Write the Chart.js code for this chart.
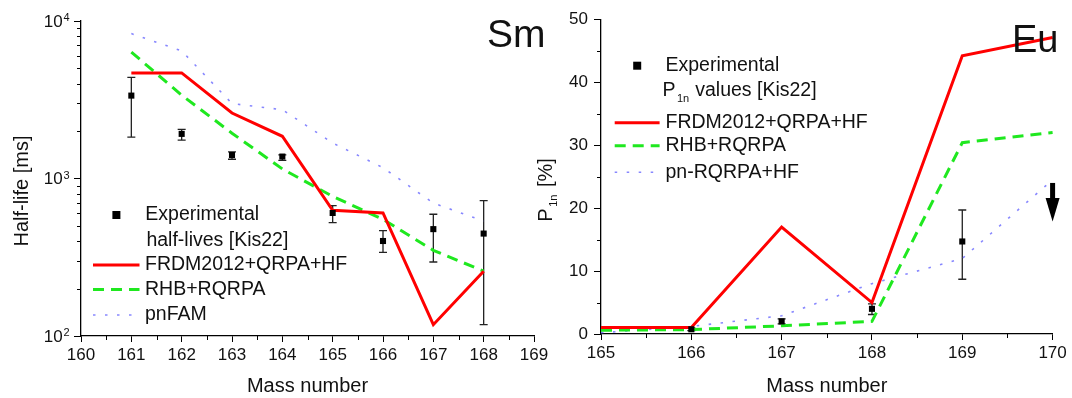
<!DOCTYPE html>
<html>
<head>
<meta charset="utf-8">
<script src="https://cdn.jsdelivr.net/npm/chart.js@4.4.1/dist/chart.umd.min.js"></script>
<style>
html, body { margin: 0; padding: 0; background: #fff; }
#wrap { position: relative; width: 1072px; height: 398px; overflow: hidden; }
.box { position: absolute; top: 0; height: 398px; }
#left { left: 0; width: 560px; }
#right { left: 530px; width: 542px; }
</style>
</head>
<body>
<div id="wrap">
  <div class="box" id="left"><canvas id="smChart"></canvas></div>
  <div class="box" id="right"><canvas id="euChart"></canvas></div>
</div>
<script>
// Sm half-lives (ms)
const smMass = [161, 162, 163, 164, 165, 166, 167, 168];
const smExp = [3360, 1920, 1410, 1378, 604, 401, 477, 447];
const smExpLow = [1830, 1750, 1325, 1303, 525, 340, 295, 118];
const smExpHigh = [4380, 2050, 1475, 1413, 673, 467, 593, 724];
const smFrdm = [4680, 4680, 2605, 1854, 628, 604, 118, 258];
const smRhb = [6350, 3380, 1940, 1150, 770, 550, 350, 258];
const smPnfam = [8320, 6460, 2990, 2735, 1680, 1172, 698, 537];
const smDecades = [100, 1000, 10000];

// Eu P1n values (%)
const euMass = [165, 166, 167, 168, 169, 170];
const euFrdm = [1.05, 1.05, 17.0, 5.0, 44.2, 47.1];
const euRhb = [0.6, 0.7, 1.3, 2.0, 30.4, 32.0];
const euPnrqrpa = [0.2, 1.2, 2.9, 8.0, 12.0, 24.5];
const euExpMass = [166, 167, 168, 169];
const euExp = [0.75, 2.0, 4.0, 14.7];
const euExpLow = [0.55, 1.6, 3.1, 8.7];
const euExpHigh = [0.95, 2.4, 4.8, 19.7];
const euLimitMass = [170];
const euLimit = [24.0];

const FONT = '"Liberation Sans", Arial, sans-serif';
const RED = '#ff0000';
const GREEN = '#1fe81f';
const BLUE = 'rgba(105,105,255,0.8)';
const RHB_DASH = [11, 7];
const DOT_DASH = [2.5, 9.5];

Chart.defaults.font.family = FONT;
Chart.defaults.color = '#111';

function pts(xs, ys) {
  return xs.map((x, i) => ({ x: x, y: ys[i] }));
}

function txt(ctx, s, x, y, size, align, base) {
  ctx.font = size + 'px ' + FONT;
  ctx.textAlign = align || 'left';
  ctx.textBaseline = base || 'middle';
  ctx.fillStyle = '#111';
  ctx.fillText(s, x, y);
  return ctx.measureText(s).width;
}

function legendLine(ctx, x1, x2, y, color, width, dash) {
  ctx.save();
  ctx.strokeStyle = color;
  ctx.lineWidth = width;
  ctx.setLineDash(dash || []);
  ctx.beginPath();
  ctx.moveTo(x1, y);
  ctx.lineTo(x2, y);
  ctx.stroke();
  ctx.restore();
}

function legendSquare(ctx, x, y) {
  ctx.fillStyle = '#000';
  ctx.fillRect(x - 4, y - 4, 8, 8);
}

function errorBars(chart, xs, lo, hi) {
  const ctx = chart.ctx, sx = chart.scales.x, sy = chart.scales.y;
  ctx.save();
  ctx.strokeStyle = '#222';
  ctx.lineWidth = 1.3;
  xs.forEach((m, i) => {
    const x = sx.getPixelForValue(m);
    const y1 = sy.getPixelForValue(lo[i]);
    const y2 = sy.getPixelForValue(hi[i]);
    ctx.beginPath();
    ctx.moveTo(x, y1); ctx.lineTo(x, y2);
    ctx.moveTo(x - 4, y1); ctx.lineTo(x + 4, y1);
    ctx.moveTo(x - 4, y2); ctx.lineTo(x + 4, y2);
    ctx.stroke();
  });
  ctx.restore();
}

function minorTicks(chart, xVals, yVals) {
  const ctx = chart.ctx, sx = chart.scales.x, sy = chart.scales.y;
  ctx.save();
  ctx.strokeStyle = '#000';
  ctx.lineWidth = 1;
  ctx.beginPath();
  xVals.forEach(v => {
    const x = Math.round(sx.getPixelForValue(v)) + 0.5;
    ctx.moveTo(x, sx.top); ctx.lineTo(x, sx.top + 4);
  });
  yVals.forEach(v => {
    const y = Math.round(sy.getPixelForValue(v)) + 0.5;
    ctx.moveTo(sy.right - 4, y); ctx.lineTo(sy.right, y);
  });
  ctx.stroke();
  ctx.restore();
}

function xAxis(min, max, height, title) {
  return {
    type: 'linear', min: min, max: max,
    ticks: { stepSize: 1, padding: 3, color: '#111', font: { size: 17 } },
    grid: { display: true, drawOnChartArea: false, drawTicks: true, tickLength: 6, tickColor: '#000', tickWidth: 1 },
    border: { display: true, color: '#000', width: 1.3 },
    title: { display: true, text: title, color: '#111', font: { size: 20 }, padding: { top: 0, bottom: 0 } },
    afterFit(s) { s.height = height; s.paddingLeft = 0; s.paddingRight = 0; }
  };
}

// ---------- Sm panel ----------
const smDecor = {
  id: 'smDecor',
  beforeDatasetsDraw(chart) { errorBars(chart, smMass, smExpLow, smExpHigh); },
  afterDraw(chart) {
    const ctx = chart.ctx, sy = chart.scales.y;
    const xm = [], ym = [];
    for (let v = 160.5; v < 169; v += 1) xm.push(v);
    [100, 1000].forEach(d => { for (let k = 2; k <= 9; k++) ym.push(k * d); });
    minorTicks(chart, xm, ym);

    smDecades.forEach(v => {
      const y = sy.getPixelForValue(v);
      txt(ctx, '10', sy.right - 18.3, y + 1, 17, 'right', 'middle');
      txt(ctx, String(Math.round(Math.log10(v))), sy.right - 17.5, y, 11, 'left', 'alphabetic');
    });

    ctx.save();
    ctx.translate(22, 191);
    ctx.rotate(-Math.PI / 2);
    txt(ctx, 'Half-life [ms]', 0, 0, 20, 'center', 'middle');
    ctx.restore();

    legendSquare(ctx, 116.4, 215);
    txt(ctx, 'Experimental', 145.3, 215, 19.5);
    txt(ctx, 'half-lives [Kis22]', 146.4, 240.7, 19.5);
    legendLine(ctx, 93, 139.5, 265, RED, 3);
    txt(ctx, 'FRDM2012+QRPA+HF', 145, 265, 19.5);
    legendLine(ctx, 93, 139.5, 289.5, GREEN, 3, RHB_DASH);
    txt(ctx, 'RHB+RQRPA', 145, 289.5, 19.5);
    legendLine(ctx, 93, 139.5, 315, BLUE, 1.6, DOT_DASH);
    txt(ctx, 'pnFAM', 145, 315, 19.5);

    txt(ctx, 'Sm', 487, 46.7, 39, 'left', 'alphabetic');
  }
};

new Chart(document.getElementById('smChart'), {
  type: 'line',
  data: {
    datasets: [
      { label: 'Experimental half-lives [Kis22]', data: pts(smMass, smExp), showLine: false,
        pointStyle: 'rect', pointRadius: 4.3, backgroundColor: '#000', borderWidth: 0, clip: false },
      { label: 'FRDM2012+QRPA+HF', data: pts(smMass, smFrdm), borderColor: RED, borderWidth: 3,
        pointRadius: 0, tension: 0, clip: false },
      { label: 'RHB+RQRPA', data: pts(smMass, smRhb), borderColor: GREEN, borderWidth: 3,
        borderDash: RHB_DASH, pointRadius: 0, tension: 0, clip: false },
      { label: 'pnFAM', data: pts(smMass, smPnfam), borderColor: BLUE, borderWidth: 1.6,
        borderDash: DOT_DASH, pointRadius: 0, tension: 0, clip: false }
    ]
  },
  options: {
    responsive: true,
    maintainAspectRatio: false,
    animation: false,
    events: [],
    layout: { padding: { left: 0, right: 26, top: 21, bottom: 0 } },
    plugins: { legend: { display: false }, tooltip: { enabled: false } },
    scales: {
      x: xAxis(160, 169, 62, 'Mass number'),
      y: {
        type: 'logarithmic', min: 100, max: 10000,
        afterBuildTicks(s) { s.ticks = smDecades.map(v => ({ value: v, major: true })); },
        ticks: { display: false },
        grid: { display: true, drawOnChartArea: false, drawTicks: true, tickLength: 7, tickColor: '#000', tickWidth: 1 },
        border: { display: true, color: '#000', width: 1.3 },
        afterFit(s) { s.width = 81; s.paddingTop = 0; s.paddingBottom = 0; }
      }
    }
  },
  plugins: [smDecor]
});

// ---------- Eu panel ----------
const euDecor = {
  id: 'euDecor',
  beforeDatasetsDraw(chart) { errorBars(chart, euExpMass, euExpLow, euExpHigh); },
  afterDraw(chart) {
    const ctx = chart.ctx, sx = chart.scales.x, sy = chart.scales.y;
    const xm = [], ym = [];
    for (let v = 165.5; v < 170; v += 1) xm.push(v);
    for (let v = 5; v < 50; v += 10) ym.push(v);
    minorTicks(chart, xm, ym);

    // upper limit arrow
    euLimitMass.forEach((m, i) => {
      const x = sx.getPixelForValue(m);
      const y = sy.getPixelForValue(euLimit[i]);
      ctx.save();
      ctx.fillStyle = '#000';
      ctx.fillRect(x - 2.5, y, 5, 17);
      ctx.beginPath();
      ctx.moveTo(x - 7, y + 15);
      ctx.lineTo(x + 7, y + 15);
      ctx.lineTo(x, y + 38.5);
      ctx.closePath();
      ctx.fill();
      ctx.restore();
    });

    // y title with subscript
    ctx.save();
    ctx.translate(21.5, 221.7);
    ctx.rotate(-Math.PI / 2);
    let w = txt(ctx, 'P', 0, 0, 20, 'left', 'alphabetic');
    w += 1.5;
    w += txt(ctx, '1n', w, 5, 11, 'left', 'alphabetic');
    txt(ctx, ' [%]', w + 2, 0, 20, 'left', 'alphabetic');
    ctx.restore();

    legendSquare(ctx, 107.2, 65.7);
    txt(ctx, 'Experimental', 135.5, 65.5, 19.5);
    let p = txt(ctx, 'P', 132.4, 90.5, 19.5);
    txt(ctx, '1n', 132.4 + p + 1.5, 99, 11);
    txt(ctx, 'values [Kis22]', 165.2, 90.5, 19.5);
    legendLine(ctx, 84.7, 129.6, 122.7, RED, 3);
    txt(ctx, 'FRDM2012+QRPA+HF', 135.5, 122.7, 19.5);
    legendLine(ctx, 84.7, 129.6, 145.7, GREEN, 3, RHB_DASH);
    txt(ctx, 'RHB+RQRPA', 135.5, 145.7, 19.5);
    legendLine(ctx, 84.7, 129.6, 172.3, BLUE, 1.6, DOT_DASH);
    txt(ctx, 'pn-RQRPA+HF', 135.5, 172.3, 19.5);

    txt(ctx, 'Eu', 482, 51.7, 38, 'left', 'alphabetic');
  }
};

new Chart(document.getElementById('euChart'), {
  type: 'line',
  data: {
    datasets: [
      { label: 'Experimental P1n values [Kis22]', data: pts(euExpMass, euExp), showLine: false,
        pointStyle: 'rect', pointRadius: 4.3, backgroundColor: '#000', borderWidth: 0, clip: false },
      { label: 'FRDM2012+QRPA+HF', data: pts(euMass, euFrdm), borderColor: RED, borderWidth: 3,
        pointRadius: 0, tension: 0, clip: false },
      { label: 'RHB+RQRPA', data: pts(euMass, euRhb), borderColor: GREEN, borderWidth: 3,
        borderDash: RHB_DASH, pointRadius: 0, tension: 0, clip: false },
      { label: 'pn-RQRPA+HF', data: pts(euMass, euPnrqrpa), borderColor: BLUE, borderWidth: 1.6,
        borderDash: DOT_DASH, pointRadius: 0, tension: 0, clip: false }
    ]
  },
  options: {
    responsive: true,
    maintainAspectRatio: false,
    animation: false,
    events: [],
    layout: { padding: { left: 0, right: 19.4, top: 19.3, bottom: 0 } },
    plugins: { legend: { display: false }, tooltip: { enabled: false } },
    scales: {
      x: xAxis(165, 170, 64, 'Mass number'),
      y: {
        type: 'linear', min: 0, max: 50,
        ticks: { stepSize: 10, padding: 6, color: '#111', font: { size: 17 } },
        grid: { display: true, drawOnChartArea: false, drawTicks: true, tickLength: 7, tickColor: '#000', tickWidth: 1 },
        border: { display: true, color: '#000', width: 1.3 },
        afterFit(s) { s.width = 71; s.paddingTop = 0; s.paddingBottom = 0; }
      }
    }
  },
  plugins: [euDecor]
});
</script>
</body>
</html>
